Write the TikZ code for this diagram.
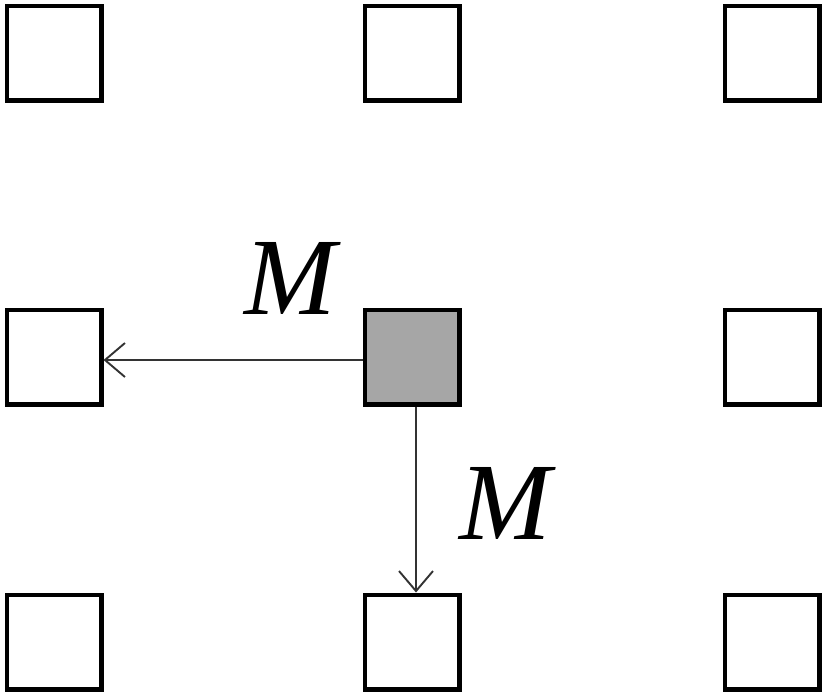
\documentclass[tikz,border=0pt]{standalone}
\usepackage{fontspec}
\setmainfont{Liberation Serif}
\usetikzlibrary{arrows.meta}
\definecolor{boxgray}{HTML}{A6A6A6}
\definecolor{arrgray}{HTML}{333333}
\begin{document}
\begin{tikzpicture}[x=1pt,y=-1pt,
  cell/.style={draw=black, line width=4.5pt, minimum size=94.5pt, inner sep=0pt, fill=white},
  arr/.style={draw=arrgray, line width=1.9pt, -{Straight Barb[length=20pt,width=34pt,line width=1.9pt]}},
  lbl/.style={inner sep=0pt, anchor=base, font=\fontsize{110}{110}\selectfont\itshape}]
\useasboundingbox (0,0) rectangle (827,694);
\node[cell] (tl) at (54,53) {};
\node[cell] (tm) at (412,53) {};
\node[cell] (tr) at (772,53) {};
\node[cell] (ml) at (54,357) {};
\node[cell, fill=boxgray] (c) at (412,357) {};
\node[cell] (mr) at (772,357) {};
\node[cell] (bl) at (54,642) {};
\node[cell] (bm) at (412,642) {};
\node[cell] (br) at (772,642) {};
\draw[arr] ([yshift=-3pt]c.west) -- ([yshift=-3pt]ml.east);
\draw[arr] ([xshift=4pt]c.south) -- ([xshift=4pt]bm.north);
\node[lbl] (m1) at (290,314) {M};
\node[lbl] (m2) at (505,539) {M};
\end{tikzpicture}
\end{document}
